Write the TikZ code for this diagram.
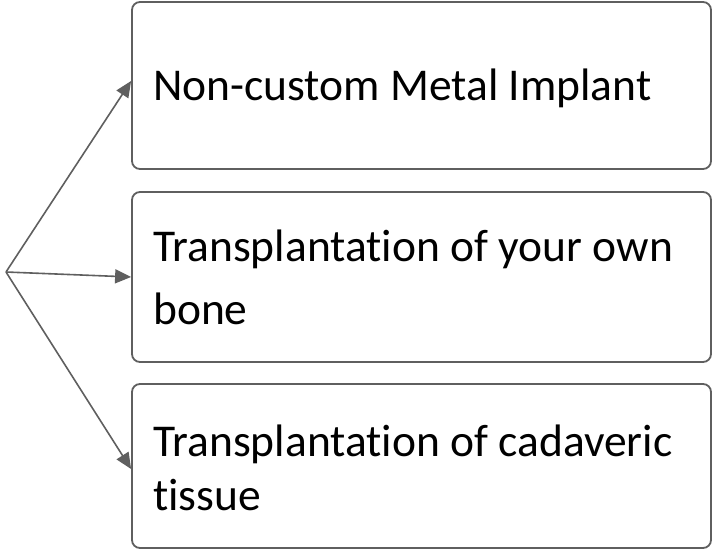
\documentclass[tikz,border=0pt]{standalone}
\usepackage{fontspec}
\setmainfont{Carlito}[RawFeature={-liga;-clig;-dlig}]
\usetikzlibrary{arrows.meta}
\definecolor{edgegray}{HTML}{5F5F5F}
\begin{document}
\begin{tikzpicture}[x=1pt,y=-1pt,
  box/.style={draw=edgegray,line width=1.8pt,rounded corners=8pt,inner sep=0pt},
  txt/.style={anchor=base west,inner sep=0pt,font=\fontsize{45.5}{54}\selectfont,text=black},
  conn/.style={draw=edgegray,line width=1.6pt,-{Triangle[length=16pt,width=14pt]}}]
\useasboundingbox (0,0) rectangle (713,551);
\node[box,minimum width=579pt,minimum height=167pt] (b1) at (421.5,85.5) {};
\node[box,minimum width=579pt,minimum height=170pt] (b2) at (421.5,277) {};
\node[box,minimum width=579pt,minimum height=164pt] (b3) at (421.5,466) {};
\node[txt] (t1) at (153,100) {Non-custom Metal Implant};
\node[txt] (t2a) at (153,261) {Transplantation of your own};
\node[txt] (t2b) at (153,324) {bone};
\node[txt] (t3a) at (153,456) {Transplantation of cadaveric};
\node[txt] (t3b) at (153,510) {tissue};
\coordinate (o) at (6,272);
\draw[conn] (o) -- ([yshift=4.5pt]b1.west);
\draw[conn] (o) -- (b2.west);
\draw[conn] (o) -- ([yshift=-3pt]b3.west);
\end{tikzpicture}
\end{document}
